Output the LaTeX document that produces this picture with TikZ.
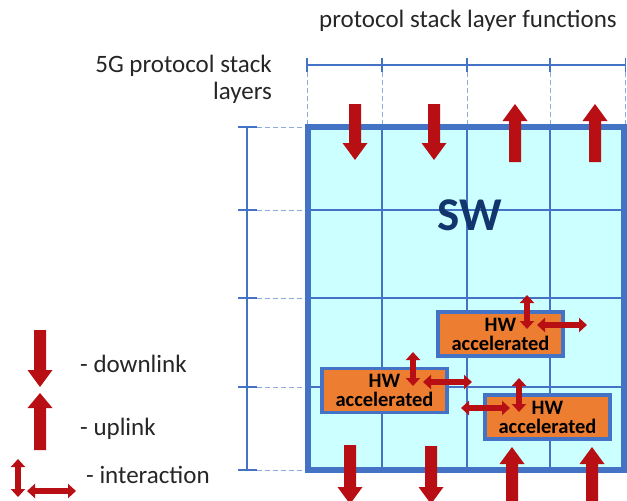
\documentclass[tikz,border=0pt]{standalone}
\usepackage{fontspec}
\setmainfont{Carlito}
\usetikzlibrary{arrows.meta}
\definecolor{gridblue}{HTML}{4472C4}
\definecolor{dashblue}{HTML}{8EA9DB}
\definecolor{cyanfill}{HTML}{CCFFFF}
\definecolor{hworange}{HTML}{ED7D31}
\definecolor{arrred}{HTML}{B80F14}
\definecolor{swnavy}{HTML}{12356E}
\definecolor{txtgray}{HTML}{262626}
% #1 x, #2 y of tail, #3 y of tip, #4 signed head length (+ down, - up)
\newcommand\fatarrow[4]{\fill[arrred] ({#1-6},{#2}) -- ({#1+6},{#2}) -- ({#1+6},{#3-(#4)}) -- ({#1+12.5},{#3-(#4)}) -- ({#1},{#3}) -- ({#1-12.5},{#3-(#4)}) -- ({#1-6},{#3-(#4)}) -- cycle;}
\tikzset{
  lbl/.style={text=txtgray, inner sep=0pt, font=\fontsize{25}{27}\selectfont},
  dimline/.style={gridblue, line width=1.3pt},
  dashln/.style={dashblue, line width=1pt, dash pattern=on 5pt off 3pt},
  gridln/.style={gridblue, line width=1.2pt},
  hwbox/.style={draw=gridblue, line width=3.5pt, fill=hworange, minimum width=125pt, minimum height=44pt, inner sep=0pt, align=center, font=\bfseries\fontsize{20.5}{19}\selectfont, text=black},
  inter/.style={draw=arrred, line width=6pt, {Triangle[width=14pt,length=8pt]}-{Triangle[width=14pt,length=8pt]}}
}
\begin{document}
\begin{tikzpicture}[x=1pt,y=-1pt]
\useasboundingbox (0,0) rectangle (627,501);
\clip (0,0) rectangle (627,501);
% labels
\node[lbl, anchor=base] (title) at (468,27) {protocol stack layer functions};
\node[lbl, anchor=north east, align=right] (layers) at (272,55) {5G protocol stack\\layers};
% top dimension line
\draw[dimline] (307,65) -- (626,65);
\foreach \x in {307,382,467,550,625.5} {
  \draw[dimline] (\x,58) -- (\x,72);
  \draw[dashln] (\x,72) -- (\x,127);
}
% left dimension line
\draw[dimline] (247,127) -- (247,470);
\foreach \y in {127,210,298,387,470} {
  \draw[dimline] (238,\y) -- (257,\y);
  \draw[dashln] (257,\y) -- (308,\y);
}
% main box
\fill[cyanfill] (308,127) rectangle (624,470);
\foreach \x in {382,467,550} \draw[gridln] (\x,127) -- (\x,470);
\foreach \y in {210,298,387} \draw[gridln] (308,\y) -- (624,\y);
\draw[gridblue, line width=5.5pt] (308,127) rectangle (624,470);
\node[anchor=base, inner sep=0pt, text=swnavy, font=\bfseries\fontsize{47}{50}\selectfont] (sw) at (470,230) {SW};
% HW boxes
\node[hwbox] (hw1) at (500.5,334) {HW\\accelerated};
\node[hwbox] (hw2) at (384.5,390.5) {HW\\accelerated};
\node[hwbox] (hw3) at (547.5,417) {HW\\accelerated};
% interaction arrows
\draw[inter] (527,295) -- (527,329);
\draw[inter] (537,325) -- (587,325);
\draw[inter] (413,352) -- (413,386);
\draw[inter] (423,382) -- (472,382);
\draw[inter] (519,378) -- (519,412);
\draw[inter] (461,408) -- (510,408);
% top fat arrows
\fatarrow{355}{104}{160}{17}
\fatarrow{434}{104}{160}{17}
\fatarrow{515}{162}{104}{-17}
\fatarrow{595}{162}{104}{-17}
% bottom fat arrows
\fatarrow{350}{445}{504}{17}
\fatarrow{431}{446}{504}{17}
\fatarrow{512}{512}{447}{-17}
\fatarrow{592}{512}{447}{-17}
% legend
\fatarrow{40}{330}{387}{17}
\fatarrow{40}{450}{393}{-15}
\draw[inter] (18,459) -- (18,497);
\draw[inter] (27,491) -- (76,491);
\node[lbl, anchor=base west] (dl) at (80,372) {- downlink};
\node[lbl, anchor=base west] (ul) at (80,435) {- uplink};
\node[lbl, anchor=base west] (ia) at (86,483) {- interaction};
\end{tikzpicture}
\end{document}
